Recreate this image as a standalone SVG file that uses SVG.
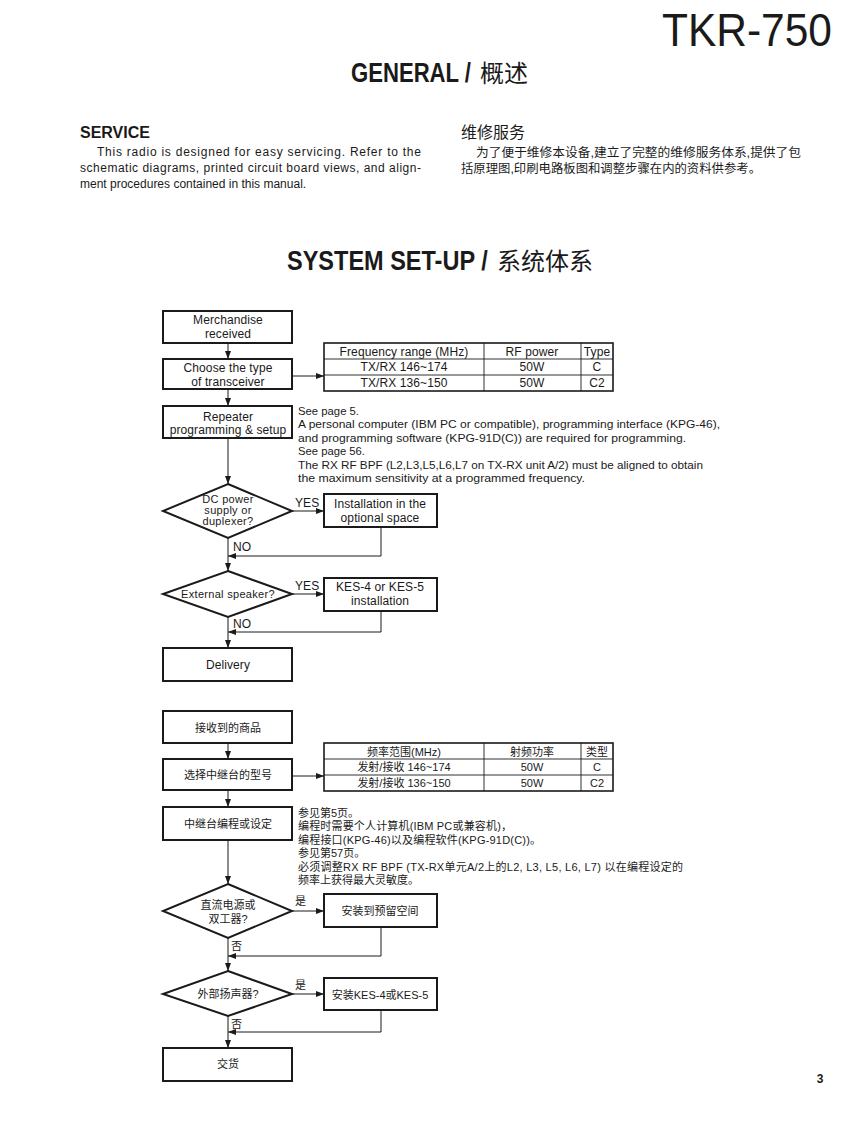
<svg xmlns="http://www.w3.org/2000/svg" width="866" height="1122" viewBox="0 0 866 1122">
<style>
.en{font-family:"Liberation Sans",Arial,sans-serif;fill:#1a1a1a}
.cn{font-family:"Liberation Sans","Noto Sans CJK SC",sans-serif;fill:#1a1a1a}
.t11{font-size:11px}
.t12{font-size:12px;letter-spacing:0.1px}
.dt{font-size:11px;letter-spacing:0.3px}
.box{fill:#fff;stroke:#1a1a1a;stroke-width:2}
.tbl{fill:#fff;stroke:#1a1a1a;stroke-width:1.6}
.tl{stroke:#1a1a1a;stroke-width:0.9}
.cx{text-anchor:middle}
.con{fill:none;stroke:#1a1a1a;stroke-width:1}
</style>
<defs>
<marker id="ah" viewBox="0 0 8 6" refX="8" refY="3" markerWidth="8" markerHeight="6" markerUnits="userSpaceOnUse" orient="auto">
<path d="M0,0 L8,3 L0,6 z" fill="#1a1a1a"/>
</marker>
</defs>
<rect width="866" height="1122" fill="#fff"/>

<!-- Header -->
<text class="en" x="832" y="46" font-size="46" text-anchor="end" textLength="170" lengthAdjust="spacingAndGlyphs">TKR-750</text>
<text class="en" transform="translate(351,82) scale(0.79,1)" x="0" y="0" font-size="28" font-weight="bold">GENERAL /</text>
<text class="cn" x="480" y="82" font-size="24" font-family="Noto Sans CJK SC">概述</text>

<text class="en" x="80" y="138" font-size="16" font-weight="bold">SERVICE</text>
<text class="en" x="97" y="156" font-size="12" textLength="324" lengthAdjust="spacing">This radio is designed for easy servicing. Refer to the</text>
<text class="en" x="80" y="172" font-size="12" textLength="341" lengthAdjust="spacing">schematic diagrams, printed circuit board views, and align-</text>
<text class="en" x="80" y="188" font-size="12">ment procedures contained in this manual.</text>

<text class="cn" x="461" y="138" font-size="16">维修服务</text>
<text class="cn" x="476" y="157" font-size="12" textLength="325" lengthAdjust="spacingAndGlyphs">为了便于维修本设备,建立了完整的维修服务体系,提供了包</text>
<text class="cn" x="461" y="173" font-size="12" textLength="300" lengthAdjust="spacingAndGlyphs">括原理图,印刷电路板图和调整步骤在内的资料供参考。</text>

<text class="en" transform="translate(287,270) scale(0.84,1)" x="0" y="0" font-size="28" font-weight="bold">SYSTEM SET-UP /</text>
<text class="cn" x="497" y="270" font-size="24" font-family="Noto Sans CJK SC">系统体系</text>

<!-- Connectors -->
<g id="connectors">
<line class="con" x1="228" y1="343" x2="228" y2="359" marker-end="url(#ah)"/>
<line class="con" x1="292" y1="376" x2="324" y2="376" marker-end="url(#ah)"/>
<line class="con" x1="228" y1="389" x2="228" y2="406" marker-end="url(#ah)"/>
<line class="con" x1="228" y1="438" x2="228" y2="484" marker-end="url(#ah)"/>
<line class="con" x1="292" y1="511" x2="324" y2="511" marker-end="url(#ah)"/>
<polyline class="con" points="381,527 381,556 228,556" marker-end="url(#ah)"/>
<line class="con" x1="228" y1="538" x2="228" y2="571" marker-end="url(#ah)"/>
<line class="con" x1="292" y1="594" x2="324" y2="594" marker-end="url(#ah)"/>
<polyline class="con" points="381,611 381,632 228,632" marker-end="url(#ah)"/>
<line class="con" x1="228" y1="617" x2="228" y2="648" marker-end="url(#ah)"/>

<line class="con" x1="228" y1="743" x2="228" y2="759" marker-end="url(#ah)"/>
<line class="con" x1="292" y1="776" x2="324" y2="776" marker-end="url(#ah)"/>
<line class="con" x1="228" y1="790" x2="228" y2="807" marker-end="url(#ah)"/>
<line class="con" x1="228" y1="840" x2="228" y2="884" marker-end="url(#ah)"/>
<line class="con" x1="292" y1="911" x2="324" y2="911" marker-end="url(#ah)"/>
<polyline class="con" points="381,927 381,956 228,956" marker-end="url(#ah)"/>
<line class="con" x1="228" y1="938" x2="228" y2="971" marker-end="url(#ah)"/>
<line class="con" x1="292" y1="994" x2="324" y2="994" marker-end="url(#ah)"/>
<polyline class="con" points="381,1010 381,1032 228,1032" marker-end="url(#ah)"/>
<line class="con" x1="228" y1="1016" x2="228" y2="1048" marker-end="url(#ah)"/>
</g>

<!-- English flow labels -->
<text class="en t12" x="295" y="507">YES</text>
<text class="en t12" x="233" y="551">NO</text>
<text class="en t12" x="295" y="590">YES</text>
<text class="en t12" x="233" y="628">NO</text>

<g id="e_merch">
<rect class="box" x="163" y="311" width="129" height="32"/>
<text class="en t12 cx" x="228" y="324">Merchandise</text>
<text class="en t12 cx" x="228" y="338">received</text>
</g>
<g id="e_choose">
<rect class="box" x="163" y="359" width="129" height="30"/>
<text class="en t12 cx" x="228" y="372">Choose the type</text>
<text class="en t12 cx" x="228" y="386">of transceiver</text>
</g>
<g id="e_table">
<rect class="tbl" x="324" y="343" width="289" height="48"/>
<line class="tl" x1="324" y1="359" x2="613" y2="359"/>
<line class="tl" x1="324" y1="375" x2="613" y2="375"/>
<line class="tl" x1="484" y1="343" x2="484" y2="391"/>
<line class="tl" x1="581" y1="343" x2="581" y2="391"/>
<text class="en t12 cx" x="404" y="356">Frequency range (MHz)</text>
<text class="en t12 cx" x="532" y="356">RF power</text>
<text class="en t12 cx" x="597" y="356">Type</text>
<text class="en t12 cx" x="404" y="371">TX/RX 146~174</text>
<text class="en t12 cx" x="532" y="371">50W</text>
<text class="en t12 cx" x="597" y="371">C</text>
<text class="en t12 cx" x="404" y="387">TX/RX 136~150</text>
<text class="en t12 cx" x="532" y="387">50W</text>
<text class="en t12 cx" x="597" y="387">C2</text>
</g>
<g id="e_repeater">
<rect class="box" x="163" y="406" width="129" height="32"/>
<text class="en t12 cx" x="228" y="421">Repeater</text>
<text class="en t12 cx" x="228" y="434">programming &amp; setup</text>
</g>
<g id="e_note">
<text class="en t11" x="298" y="415" textLength="61" lengthAdjust="spacingAndGlyphs">See page 5.</text>
<text class="en t11" x="298" y="428" textLength="422" lengthAdjust="spacingAndGlyphs">A personal computer (IBM PC or compatible), programming interface (KPG-46),</text>
<text class="en t11" x="298" y="442" textLength="388" lengthAdjust="spacingAndGlyphs">and programming software (KPG-91D(C)) are required for programming.</text>
<text class="en t11" x="298" y="455" textLength="67" lengthAdjust="spacingAndGlyphs">See page 56.</text>
<text class="en t11" x="298" y="469" textLength="405" lengthAdjust="spacingAndGlyphs">The RX RF BPF (L2,L3,L5,L6,L7 on TX-RX unit A/2) must be aligned to obtain</text>
<text class="en t11" x="298" y="482" textLength="287" lengthAdjust="spacingAndGlyphs">the maximum sensitivity at a programmed frequency.</text>
</g>
<g id="e_dc">
<polygon class="box" points="228,484 292,511 228,538 163,511"/>
<text class="en dt cx" x="228" y="503">DC power</text>
<text class="en dt cx" x="228" y="514">supply or</text>
<text class="en dt cx" x="228" y="525">duplexer?</text>
</g>
<g id="e_install">
<rect class="box" x="324" y="494" width="113" height="33"/>
<text class="en t12 cx" x="380" y="508">Installation in the</text>
<text class="en t12 cx" x="380" y="522">optional space</text>
</g>
<g id="e_spk">
<polygon class="box" points="228,571 292,594 228,617 163,594"/>
<text class="en dt cx" x="228" y="598">External speaker?</text>
</g>
<g id="e_kes">
<rect class="box" x="324" y="578" width="113" height="33"/>
<text class="en t12 cx" x="380" y="591">KES-4 or KES-5</text>
<text class="en t12 cx" x="380" y="605">installation</text>
</g>
<g id="e_delivery">
<rect class="box" x="163" y="648" width="129" height="33"/>
<text class="en t12 cx" x="228" y="669">Delivery</text>
</g>

<!-- Chinese flow -->
<text class="cn t11" x="295" y="905">是</text>
<text class="cn t11" x="231" y="950">否</text>
<text class="cn t11" x="295" y="989">是</text>
<text class="cn t11" x="231" y="1028">否</text>

<g id="c_merch">
<rect class="box" x="163" y="711" width="129" height="32"/>
<text class="cn t11 cx" x="228" y="732">接收到的商品</text>
</g>
<g id="c_choose">
<rect class="box" x="163" y="759" width="129" height="31"/>
<text class="cn t11 cx" x="228" y="779">选择中继台的型号</text>
</g>
<g id="c_table">
<rect class="tbl" x="324" y="743" width="289" height="48"/>
<line class="tl" x1="324" y1="759" x2="613" y2="759"/>
<line class="tl" x1="324" y1="775" x2="613" y2="775"/>
<line class="tl" x1="484" y1="743" x2="484" y2="791"/>
<line class="tl" x1="581" y1="743" x2="581" y2="791"/>
<text class="cn t11 cx" x="404" y="756">频率范围(MHz)</text>
<text class="cn t11 cx" x="532" y="756">射频功率</text>
<text class="cn t11 cx" x="597" y="756">类型</text>
<text class="cn t11 cx" x="404" y="771">发射/接收 146~174</text>
<text class="cn t11 cx" x="532" y="771">50W</text>
<text class="cn t11 cx" x="597" y="771">C</text>
<text class="cn t11 cx" x="404" y="787">发射/接收 136~150</text>
<text class="cn t11 cx" x="532" y="787">50W</text>
<text class="cn t11 cx" x="597" y="787">C2</text>
</g>
<g id="c_repeater">
<rect class="box" x="163" y="807" width="129" height="33"/>
<text class="cn t11 cx" x="228" y="828">中继台编程或设定</text>
</g>
<g id="c_note">
<text class="cn t11" x="298" y="817">参见第5页。</text>
<text class="cn t11" x="298" y="830" textLength="214" lengthAdjust="spacing">编程时需要个人计算机(IBM PC或兼容机)，</text>
<text class="cn t11" x="298" y="844" textLength="243" lengthAdjust="spacing">编程接口(KPG-46)以及编程软件(KPG-91D(C))。</text>
<text class="cn t11" x="298" y="857">参见第57页。</text>
<text class="cn t11" x="298" y="871" textLength="385" lengthAdjust="spacing">必须调整RX RF BPF (TX-RX单元A/2上的L2, L3, L5, L6, L7) 以在编程设定的</text>
<text class="cn t11" x="298" y="884">频率上获得最大灵敏度。</text>
</g>
<g id="c_dc">
<polygon class="box" points="228,884 292,911 228,938 163,911"/>
<text class="cn t11 cx" x="228" y="909">直流电源或</text>
<text class="cn t11 cx" x="228" y="923">双工器?</text>
</g>
<g id="c_install">
<rect class="box" x="324" y="894" width="113" height="33"/>
<text class="cn t11 cx" x="380" y="915">安装到预留空间</text>
</g>
<g id="c_spk">
<polygon class="box" points="228,971 292,994 228,1016 163,994"/>
<text class="cn t11 cx" x="228" y="998">外部扬声器?</text>
</g>
<g id="c_kes">
<rect class="box" x="324" y="978" width="113" height="32"/>
<text class="cn t11 cx" x="380" y="999">安装KES-4或KES-5</text>
</g>
<g id="c_delivery">
<rect class="box" x="163" y="1048" width="129" height="33"/>
<text class="cn t11 cx" x="228" y="1068">交货</text>
</g>

<text class="en" x="820" y="1083" font-size="12" font-weight="bold" text-anchor="middle">3</text>
</svg>
